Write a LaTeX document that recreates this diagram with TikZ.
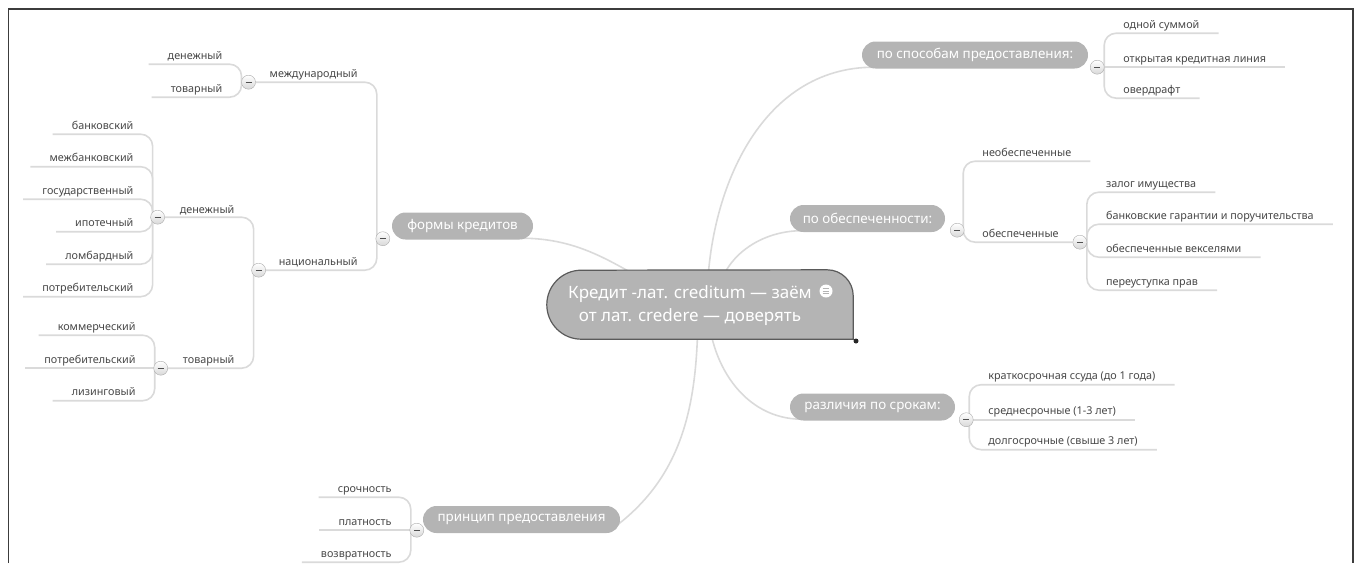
\documentclass[tikz,border=0pt]{standalone}
\usepackage{fontspec}
\setmainfont{Noto Sans}
\usetikzlibrary{positioning, backgrounds}

\definecolor{pillgray}{HTML}{B4B4B4}
\definecolor{linegray}{HTML}{DADADA}
\definecolor{leaftext}{HTML}{474747}
\definecolor{edgegray}{HTML}{5A5A5A}
\definecolor{framegray}{HTML}{3C3C3C}
\definecolor{togglefill}{HTML}{D8D8D8}
\definecolor{toggleedge}{HTML}{ABABAB}
\definecolor{togglebar}{HTML}{505050}

\begin{document}
\begin{tikzpicture}[
    x=1pt, y=1pt,
    pill/.style={fill=pillgray, text=white, rounded corners=13.5pt, minimum height=27pt, inner sep=0pt, font=\fontsize{13.4}{16}\selectfont},
    leaf/.style={text=leaftext, font=\fontsize{10.8}{13}\selectfont, inner xsep=19pt, inner ysep=3pt, text height=7.8pt, text depth=2pt},
    toggle/.style={circle, draw=toggleedge, top color=white, bottom color=togglefill, minimum size=14pt, inner sep=0pt,
        path picture={\draw[togglebar, line width=1.4pt] ([xshift=-3pt]path picture bounding box.center) -- ([xshift=3pt]path picture bounding box.center);}},
    branch/.style={draw=linegray, line width=1.6pt, rounded corners=12pt},
    centrebox/.style={minimum width=306pt, minimum height=69pt, inner sep=0pt},
    centreshape/.style={fill=pillgray, draw=edgegray, line width=1.2pt},
    centretext/.style={text=white, align=center, font=\fontsize{17}{23}\selectfont},
    noteicon/.style={circle, fill=white, minimum size=13pt, inner sep=0pt,
        path picture={\foreach \dy in {-2.6,0,2.6} \draw[pillgray, line width=1pt] ([shift={(-3.4pt,\dy pt)}]path picture bounding box.center) -- ++(6.8pt,0pt);}},
    grip/.style={circle, fill=black!85, minimum size=5pt, inner sep=0pt}
]
\useasboundingbox (0,0) rectangle (1356,-563);

% Frame
\draw[framegray, line width=1.5pt] (8.5,-563) -- (8.5,-9) -- (1353,-9) -- (1353,-563);

% Centre
\node[centrebox] (credit) at (700,-304.5) {};
\node[centretext] (credittext) at (690,-306) {Кредит -лат. creditum — заём\\от лат. credere — доверять};
\node[noteicon] (note) at (826,-291) {};
\node[grip] (grip) at (856,-341) {};

% Right: ways
\node[pill, minimum width=226pt] (ways) at (975,-55) {по способам предоставления:};
\node[toggle] (waystg) at ([shift={(9pt,1.5pt)}]ways.south east) {};
\node[leaf, anchor=south west] (lump) at ([shift={(7pt,34pt)}]waystg.center) {одной суммой};
\node[leaf, anchor=south west] (credline) at ([shift={(7pt,0pt)}]waystg.center) {открытая кредитная линия};
\node[leaf, anchor=south west] (overdraft) at ([shift={(7pt,-31pt)}]waystg.center) {овердрафт};

% Right: security
\node[pill, minimum width=155pt] (secur) at (867.5,-218.5) {по обеспеченности:};
\node[toggle] (securtg) at ([shift={(12pt,2pt)}]secur.south east) {};
\node[leaf, anchor=south west] (unsecured) at ([shift={(6pt,69pt)}]securtg.center) {необеспеченные};
\node[leaf, anchor=south west] (secured) at ([shift={(6pt,-12pt)}]securtg.center) {обеспеченные};
\node[toggle] (securedtg) at ([xshift=2pt]secured.south east) {};
\node[leaf, anchor=south west] (pledge) at ([shift={(7pt,50pt)}]securedtg.center) {залог имущества};
\node[leaf, anchor=south west] (guarantee) at ([shift={(7pt,18pt)}]securedtg.center) {банковские гарантии и поручительства};
\node[leaf, anchor=south west] (bills) at ([shift={(7pt,-15pt)}]securedtg.center) {обеспеченные векселями};
\node[leaf, anchor=south west] (assign) at ([shift={(7pt,-48pt)}]securedtg.center) {переуступка прав};

% Right: terms
\node[pill, minimum width=165pt] (terms) at (872.5,-407) {различия по срокам:};
\node[toggle] (termstg) at ([shift={(11pt,1pt)}]terms.south east) {};
\node[leaf, anchor=south west] (short) at ([shift={(3pt,35pt)}]termstg.center) {краткосрочная ссуда (до 1 года)};
\node[leaf, anchor=south west] (medium) at ([shift={(3pt,0pt)}]termstg.center) {среднесрочные (1-3 лет)};
\node[leaf, anchor=south west] (long) at ([shift={(3pt,-30pt)}]termstg.center) {долгосрочные (свыше 3 лет)};

% Left: forms
\node[pill, minimum width=141pt] (forms) at (462.5,-226) {формы кредитов};
\node[toggle] (formstg) at ([shift={(-9pt,1pt)}]forms.south west) {};
\node[leaf, anchor=south east] (intl) at ([shift={(-6pt,156.5pt)}]formstg.center) {международный};
\node[leaf, anchor=south east] (natl) at ([shift={(-6pt,-31.5pt)}]formstg.center) {национальный};
\node[toggle] (intltg) at ([xshift=-2pt]intl.south west) {};
\node[leaf, anchor=south east] (intlmoney) at ([shift={(-7pt,18pt)}]intltg.center) {денежный};
\node[leaf, anchor=south east] (intlgoods) at ([shift={(-7pt,-15pt)}]intltg.center) {товарный};
\node[toggle] (natltg) at ([xshift=-1pt]natl.south west) {};
\node[leaf, anchor=south east] (natlmoney) at ([shift={(-5pt,52pt)}]natltg.center) {денежный};
\node[leaf, anchor=south east] (natlgoods) at ([shift={(-5pt,-98pt)}]natltg.center) {товарный};
\node[toggle] (moneytg) at ([shift={(-3pt,1pt)}]natlmoney.south west) {};
\node[toggle] (goodstg) at ([xshift=-3pt]natlgoods.south west) {};
\node[leaf, anchor=south east] (bank) at ([shift={(-5pt,83pt)}]moneytg.center) {банковский};
\node[leaf, anchor=south east] (interbank) at ([shift={(-5pt,50.5pt)}]moneytg.center) {межбанковский};
\node[leaf, anchor=south east] (state) at ([shift={(-5pt,18pt)}]moneytg.center) {государственный};
\node[leaf, anchor=south east] (mortgage) at ([shift={(-5pt,-14.5pt)}]moneytg.center) {ипотечный};
\node[leaf, anchor=south east] (pawn) at ([shift={(-5pt,-47pt)}]moneytg.center) {ломбардный};
\node[leaf, anchor=south east] (consumer) at ([shift={(-5pt,-79.5pt)}]moneytg.center) {потребительский};
\node[leaf, anchor=south east] (commercial) at ([shift={(-6pt,33pt)}]goodstg.center) {коммерческий};
\node[leaf, anchor=south east] (goodsconsumer) at ([shift={(-6pt,0pt)}]goodstg.center) {потребительский};
\node[leaf, anchor=south east] (leasing) at ([shift={(-6pt,-32.5pt)}]goodstg.center) {лизинговый};

% Left: principle
\node[pill, minimum width=197pt] (princ) at (521.5,-519.5) {принцип предоставления};
\node[toggle] (princtg) at ([shift={(-6pt,3pt)}]princ.south west) {};
\node[leaf, anchor=south east] (urgency) at ([shift={(-6pt,33pt)}]princtg.center) {срочность};
\node[leaf, anchor=south east] (payment) at ([shift={(-6pt,0pt)}]princtg.center) {платность};
\node[leaf, anchor=south east] (repay) at ([shift={(-6pt,-32pt)}]princtg.center) {возвратность};

% Edges
\begin{scope}[on background layer]
\draw[branch] ([xshift=7pt]credit.center) to[out=90, in=180] ([shift={(12pt,1.5pt)}]ways.south west);
\draw[branch] ([xshift=17pt]credit.center) to[out=90, in=180] ([shift={(12pt,1.5pt)}]secur.south west);
\draw[branch] ([xshift=8pt]credit.center) to[out=-90, in=180] ([shift={(12pt,1.5pt)}]terms.south west);
\draw[branch] ([xshift=-2pt]credit.center) to[out=-90, in=35] ([shift={(-12pt,1.5pt)}]princ.south east);
\draw[branch] ([xshift=-10pt]credit.center) to[out=155, in=0] ([shift={(-12pt,1.5pt)}]forms.south east);

\draw[branch] (waystg -| lump.south west) |- (lump.south east);
\draw[branch] (waystg) -- (credline.south east);
\draw[branch] (waystg -| overdraft.south west) |- (overdraft.south east);

\draw[branch] (securtg -| unsecured.south west) |- (unsecured.south east);
\draw[branch] (securtg -| secured.south west) |- (securedtg);
\draw[branch] (securedtg -| pledge.south west) |- (pledge.south east);
\draw[branch] (securedtg -| guarantee.south west) |- (guarantee.south east);
\draw[branch] (securedtg -| bills.south west) |- (bills.south east);
\draw[branch] (securedtg -| assign.south west) |- (assign.south east);

\draw[branch] (termstg -| short.south west) |- (short.south east);
\draw[branch] (termstg) -- (medium.south east);
\draw[branch] (termstg -| long.south west) |- (long.south east);

\draw[branch] (formstg -| intl.south east) |- (intltg);
\draw[branch] (formstg -| natl.south east) |- (natltg);
\draw[branch] (intltg -| intlmoney.south east) |- (intlmoney.south west);
\draw[branch] (intltg -| intlgoods.south east) |- (intlgoods.south west);
\draw[branch] (natltg -| natlmoney.south east) |- (moneytg);
\draw[branch] (natltg -| natlgoods.south east) |- (goodstg);
\draw[branch] (moneytg -| bank.south east) |- (bank.south west);
\draw[branch] (moneytg -| interbank.south east) |- (interbank.south west);
\draw[branch] (moneytg -| state.south east) |- (state.south west);
\draw[branch] (moneytg -| mortgage.south east) |- (mortgage.south west);
\draw[branch] (moneytg -| pawn.south east) |- (pawn.south west);
\draw[branch] (moneytg -| consumer.south east) |- (consumer.south west);
\draw[branch] (goodstg -| commercial.south east) |- (commercial.south west);
\draw[branch] (goodstg) -- (goodsconsumer.south west);
\draw[branch] (goodstg -| leasing.south east) |- (leasing.south west);

\draw[branch] (princtg -| urgency.south east) |- (urgency.south west);
\draw[branch] (princtg) -- (payment.south west);
\draw[branch] (princtg -| repay.south east) |- (repay.south west);

\draw[centreshape] ([xshift=34.5pt]credit.south west) arc[start angle=270, end angle=90, radius=34.5pt] -- ([xshift=-26pt]credit.north east) arc[start angle=90, end angle=0, radius=26pt] -- (credit.south east) -- cycle;
\end{scope}

\end{tikzpicture}
\end{document}
